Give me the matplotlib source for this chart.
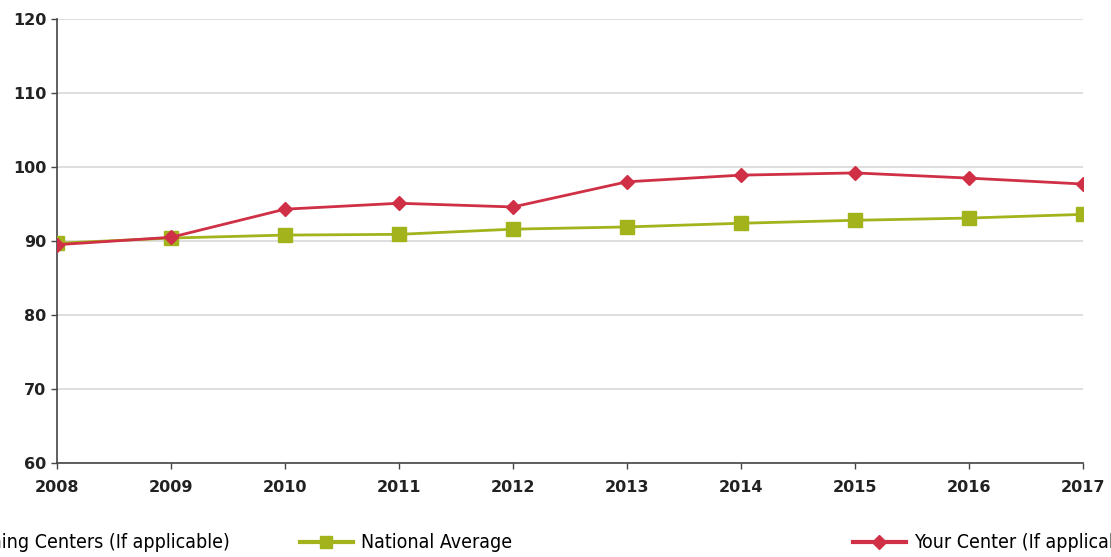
import matplotlib
matplotlib.use("Agg")
from matplotlib import pyplot as plt
from matplotlib.lines import Line2D
import numpy as np

years = [2008, 2009, 2010, 2011, 2012, 2013, 2014, 2015, 2016, 2017]
national_avg = [89.7, 90.4, 90.8, 90.9, 91.6, 91.9, 92.4, 92.8, 93.1, 93.6]
your_center = [89.5, 90.5, 94.3, 95.1, 94.6, 98.0, 98.9, 99.2, 98.5, 97.7]
y_ticks = [60, 70, 80, 90, 100, 110, 120]

green = "#a2b31c"
red = "#cf3046"

fig = plt.figure(figsize=(11.11, 5.57), dpi=100)
ax = fig.add_axes([57 / 1111, 1 - 463 / 557, (1083 - 57) / 1111, (463 - 19) / 557])

ax.plot(years, national_avg, color=green, lw=2, marker="s", ms=10, zorder=3)
ax.plot(years, your_center, color=red, lw=2, marker="D", ms=7, zorder=4)

ax.set_xlim(years[0], years[-1])
ax.set_ylim(y_ticks[0], y_ticks[-1])
ax.set_xticks(years)
ax.set_yticks(y_ticks)
ax.grid(axis="y", color="#d8d8d8", lw=1.2)
ax.set_axisbelow(True)
for s in ["top", "right"]:
    ax.spines[s].set_visible(False)
for s in ["left", "bottom"]:
    ax.spines[s].set_color("#444444")
    ax.spines[s].set_linewidth(1.2)
ax.tick_params(colors="#444444", length=4, width=1, direction="out")
for lab in ax.get_xticklabels() + ax.get_yticklabels():
    lab.set_fontfamily("DejaVu Sans")
    lab.set_fontweight("bold")
    lab.set_fontsize(11.5)
    lab.set_color("#222222")
ax.tick_params(axis="x", pad=8)

# legend entries sit apart from each other, so one legend per entry
entries = [
    (Line2D([], [], color="#3b6fb6", lw=3, marker="^", ms=9), "Similar Training Centers (If applicable)", "center right", 230),
    (Line2D([], [], color=green, lw=3, marker="s", ms=9), "National Average", "center left", 300),
    (Line2D([], [], color=red, lw=3, marker="D", ms=7), "Your Center (If applicable)", "center left", 853),
]
for handle, label, loc, xpx in entries:
    fig.legend(handles=[handle], labels=[label], loc=loc,
               bbox_to_anchor=(xpx / 1111, 1 - 543 / 557), frameon=False,
               handlelength=2.7, handletextpad=0.45, borderpad=0, borderaxespad=0,
               prop={"family": "DejaVu Sans", "stretch": "condensed", "size": 14})

fig.savefig("out.png", dpi=100)
